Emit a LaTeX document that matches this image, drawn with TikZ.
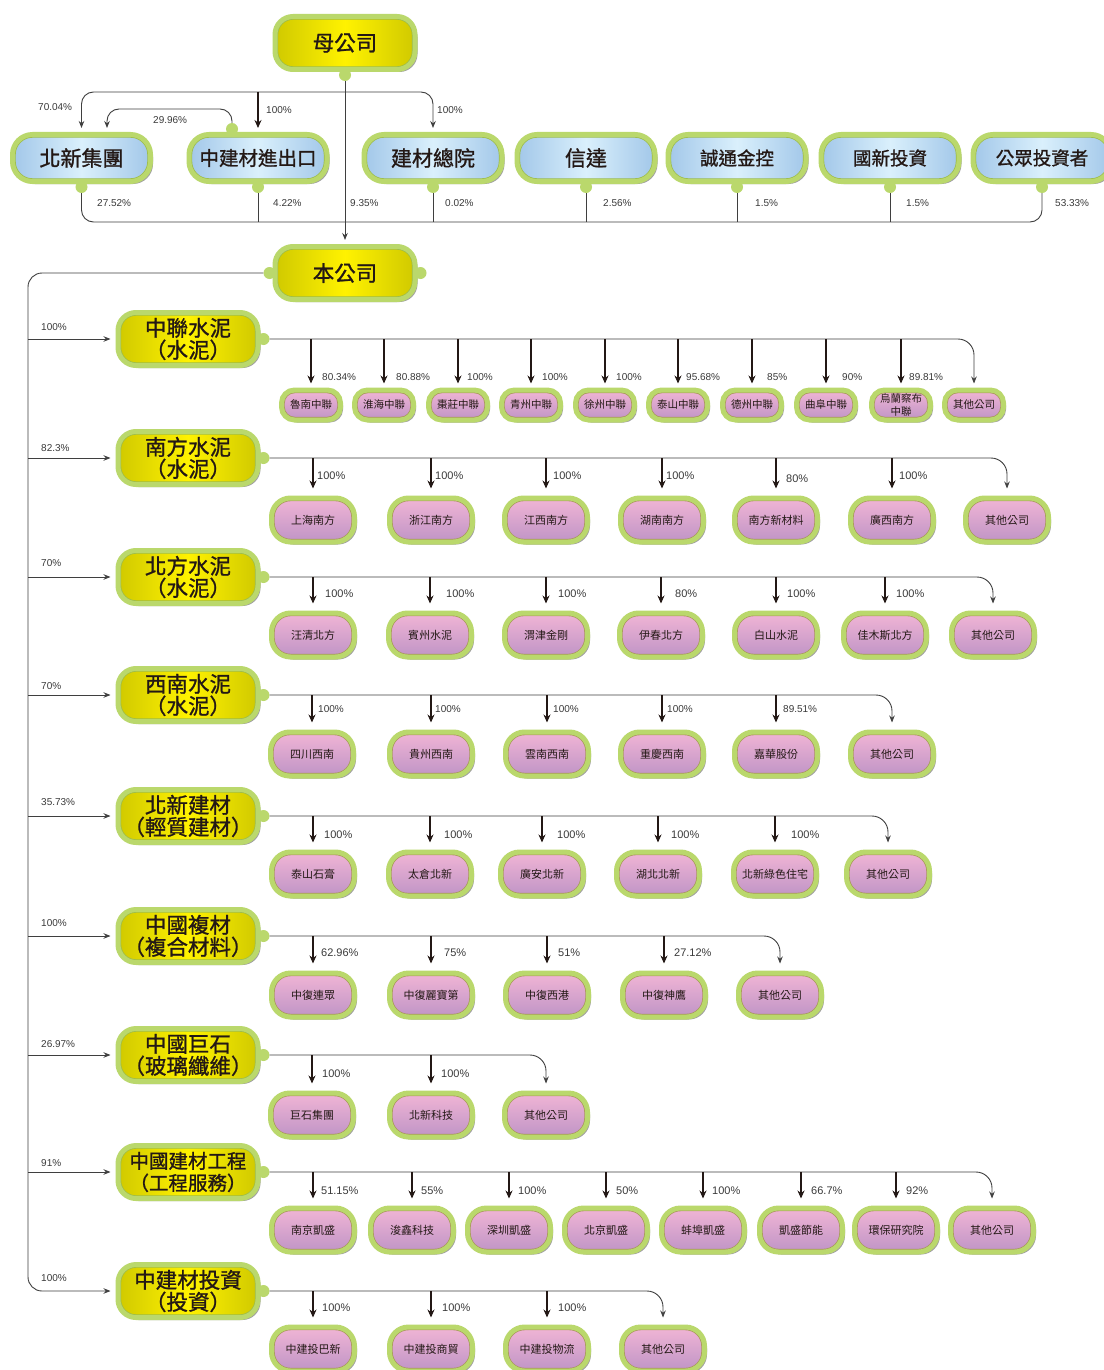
\documentclass[tikz,border=0pt]{standalone}
\usepackage{fontspec}
\setmainfont{Liberation Sans}
\newfontfamily\cjk{Noto Sans CJK TC}
\newfontfamily\cjkm[FakeBold=1.1]{Noto Sans CJK TC}
\usetikzlibrary{arrows.meta,shadows,calc}
\definecolor{ring}{HTML}{BAD86C}
\definecolor{ringin}{HTML}{9CBB48}
\definecolor{pinkin}{HTML}{A8965A}
\definecolor{ylw}{HTML}{FFF200}
\definecolor{ylwdk}{HTML}{D0C900}
\definecolor{blu}{HTML}{DAF0FC}
\definecolor{bludk}{HTML}{A2C7E9}
\definecolor{pnk}{HTML}{F1B5D5}
\definecolor{pnkdk}{HTML}{BF94C6}
\definecolor{shd}{HTML}{A0A0A0}
\definecolor{ink}{HTML}{231815}
\definecolor{lnc}{HTML}{3F3F3F}
\definecolor{pctc}{HTML}{3A3A3A}
\newcommand\lp{\makebox[0.62em][r]{（}}
\newcommand\rp{\makebox[0.62em][l]{）}}
\begin{document}
\begin{tikzpicture}[x=1pt,y=-1pt,
  ringed/.style 2 args={draw=ring, line width=5pt, rounded corners=#1,
    path picture={\draw[#2, line width=6.4pt, rounded corners=#1]
      (path picture bounding box.south west) rectangle (path picture bounding box.north east);}},
  shad/.style={drop shadow={shadow xshift=2.5pt, shadow yshift=-2.5pt, fill=shd, opacity=1}},
  yel/.style={ringed={18pt}{ringin}, shad, left color=ylwdk, right color=ylwdk, middle color=ylw,
    minimum width=140pt, minimum height=53pt, inner sep=0pt, align=center, text=ink,
    font=\cjkm\fontsize{21.5}{22}\selectfont},
  shr/.style={ringed={20pt}{ringin}, shad, left color=bludk, right color=bludk, middle color=blu,
    minimum width=138pt, minimum height=47pt, inner sep=0pt, text=ink,
    font=\cjkm\fontsize{21}{22}\selectfont},
  shrs/.style={shr, font=\cjkm\fontsize{18.5}{20}\selectfont},
  kid/.style={ringed={19pt}{pinkin}, shad, top color=pnk, bottom color=pnkdk,
    minimum width=83pt, minimum height=44pt, inner sep=0pt, align=center, text=ink,
    font=\cjk\fontsize{11}{13}\selectfont},
  kidsm/.style={kid, ringed={13pt}{pinkin}, minimum width=59pt, minimum height=30pt,
    font=\cjk\fontsize{10.5}{12.5}\selectfont},
  knob/.style={circle, fill=ring, draw=none, minimum size=12pt, inner sep=0pt},
  ln/.style={draw=lnc, line width=0.9pt},
  tarr/.style={ln, -{Stealth[length=7pt,width=5.5pt]}},
  karr/.style={draw=ink, line width=1.8pt, -{Stealth[length=8pt,width=7pt]}},
  pct/.style={font=\fontsize{10}{12}\selectfont, text=pctc, anchor=west, inner sep=0pt},
  pctb/.style={pct, font=\fontsize{11}{13}\selectfont}
]
\fill[white] (0,0) rectangle (1103,1370);
\useasboundingbox (0,0) rectangle (1103,1370);

% ---------- top ----------
\node[yel] (mu) at (345,43) {母公司};
\node[knob] (kmu) at ($(mu.south)+(0,3)$) {};

\node[shr] (bx) at (81.5,158) {北新集團};
\node[shr, font=\cjkm\fontsize{19.5}{20}\selectfont] (zjc) at (258,158) {中建材進出口};
\node[shr] (jczy) at (433,158) {建材總院};
\node[shr] (xd) at (586,158) {信達};
\node[shrs] (ct) at (737,158) {誠通金控};
\node[shrs] (gx) at (890,158) {國新投資};
\node[shrs] (gz) at (1042,158) {公眾投資者};
\foreach \n in {bx,zjc,jczy,xd,ct,gx,gz} \node[knob] (k\n) at ($(\n.south)+(0,3)$) {};

\node[yel] (ben) at (345,273) {本公司};
\node[knob] (kbl) at ($(ben.west)+(-3,0)$) {};
\node[knob] (kbr) at ($(ben.east)+(3,0)$) {};

\coordinate (sp) at (345,92);
\coordinate (busy) at (0,222);
\draw[ln, rounded corners=12pt] (kbx) |- (kgz |- busy) -- (kgz);
\foreach \n in {zjc,jczy,xd,ct,gx} \draw[ln] (k\n) -- (k\n |- busy);
\draw[tarr, shorten >=4pt] (kmu) -- (ben.north);
\draw[tarr, rounded corners=12pt, shorten >=4pt] (sp) -| (bx.north);
\draw[tarr, rounded corners=12pt, shorten >=4pt] (sp) -| (jczy.north);
\draw[karr, shorten >=4pt] (zjc.north |- sp) -- (zjc.north);
\node[knob] (kzt) at ($(zjc.north)+(-26,-3)$) {};
\coordinate (c29) at (107,109);
\draw[tarr, rounded corners=12pt, shorten >=4pt] (kzt) |- (c29) -- (c29 |- bx.north);

\node[pct] (t1) at (38,107) {70.04\%};
\node[pct] (t2) at (153,120) {29.96\%};
\node[pct] (t3) at (266,110) {100\%};
\node[pct] (t4) at (437,110) {100\%};
\node[pct] (b1) at (97,203) {27.52\%};
\node[pct] (b2) at (273,203) {4.22\%};
\node[pct] (b3) at (350,203) {9.35\%};
\node[pct] (b4) at (445,203) {0.02\%};
\node[pct] (b5) at (603,203) {2.56\%};
\node[pct] (b6) at (755,203) {1.5\%};
\node[pct] (b7) at (906,203) {1.5\%};
\node[pct] (b8) at (1055,203) {53.33\%};

% ---------- segments ----------
\node[yel] (s1) at (188,339) {中聯水泥\\\lp 水泥\rp};
\node[yel] (s2) at (188,458) {南方水泥\\\lp 水泥\rp};
\node[yel] (s3) at (188,577) {北方水泥\\\lp 水泥\rp};
\node[yel] (s4) at (188,695) {西南水泥\\\lp 水泥\rp};
\node[yel] (s5) at (188,816) {北新建材\\\lp 輕質建材\rp};
\node[yel] (s6) at (188,936) {中國複材\\\lp 複合材料\rp};
\node[yel] (s7) at (188,1055) {中國巨石\\\lp 玻璃纖維\rp};
\node[yel, font=\cjkm\fontsize{19.5}{22}\selectfont] (s8) at (188,1172) {中國建材工程\\\lp 工程服務\rp};
\node[yel] (s9) at (188,1291) {中建材投資\\\lp 投資\rp};
\foreach \i in {1,...,9} \node[knob] (ks\i) at ($(s\i.east)+(3,0)$) {};

\coordinate (tb) at (28,0);
\draw[tarr, rounded corners=14pt, shorten >=5pt] (kbl) -| (tb |- s9.west) -- (s9.west);
\foreach \i in {1,...,8} \draw[tarr, shorten >=5pt] (tb |- s\i.west) -- (s\i.west);

\node[pct] (g1) at (41,327) {100\%};
\node[pct] (g2) at (41,448) {82.3\%};
\node[pct] (g3) at (41,563) {70\%};
\node[pct] (g4) at (41,686) {70\%};
\node[pct] (g5) at (41,802) {35.73\%};
\node[pct] (g6) at (41,923) {100\%};
\node[pct] (g7) at (41,1044) {26.97\%};
\node[pct] (g8) at (41,1163) {91\%};
\node[pct] (g9) at (41,1278) {100\%};

% ---------- row 1 ----------
\node[kidsm] (r1q) at (974,405) {其他公司};
\draw[tarr, rounded corners=16pt, shorten >=4pt] (ks1) -| (r1q.north);
\foreach \n/\x/\t/\p/\lx in {a/311/魯南中聯/80.34/322, b/384/淮海中聯/80.88/396, c/458/棗莊中聯/100/467,
  d/531/青州中聯/100/542, e/605/徐州中聯/100/616, f/678/泰山中聯/95.68/686, g/752/德州中聯/85/767,
  h/826/曲阜中聯/90/842, i/901/烏蘭察布\\中聯/89.81/909}{
  \node[kidsm] (r1\n) at (\x,405) {\t};
  \draw[karr, shorten >=4pt] (r1\n.north |- ks1) -- (r1\n.north);
  \node[pct] (l1\n) at (\lx,377) {\p\%};
}

% ---------- row 2 ----------
\node[kid] (r2q) at (1007,520) {其他公司};
\draw[tarr, rounded corners=16pt, shorten >=7pt] (ks2) -| (r2q.north);
\foreach \n/\x/\t/\p/\lx/\ly in {a/313/上海南方/100/317/476, b/431/浙江南方/100/435/476, c/546/江西南方/100/553/476,
  d/662/湖南南方/100/666/476, e/776/南方新材料/80/786/479, f/892/廣西南方/100/899/476}{
  \node[kid] (r2\n) at (\x,520) {\t};
  \draw[karr, shorten >=7pt] (r2\n.north |- ks2) -- (r2\n.north);
  \node[pctb] (l2\n) at (\lx,\ly) {\p\%};
}

% ---------- row 3 ----------
\node[kid] (r3q) at (993,635) {其他公司};
\draw[tarr, rounded corners=16pt, shorten >=7pt] (ks3) -| (r3q.north);
\foreach \n/\x/\t/\p/\lx in {a/313/汪清北方/100/325, b/430/賓州水泥/100/446, c/546/渭津金剛/100/558,
  d/661/伊春北方/80/675, e/776/白山水泥/100/787, f/885/佳木斯北方/100/896}{
  \node[kid] (r3\n) at (\x,635) {\t};
  \draw[karr, shorten >=7pt] (r3\n.north |- ks3) -- (r3\n.north);
  \node[pctb] (l3\n) at (\lx,594) {\p\%};
}

% ---------- row 4 ----------
\node[kid] (r4q) at (892,754) {其他公司};
\draw[tarr, rounded corners=16pt, shorten >=7pt] (ks4) -| (r4q.north);
\foreach \n/\x/\t/\p/\lx in {a/312/四川西南/100/318, b/431/貴州西南/100/435, c/547/雲南西南/100/553,
  d/662/重慶西南/100/667, e/776/嘉華股份/89.51/783}{
  \node[kid] (r4\n) at (\x,754) {\t};
  \draw[karr, shorten >=7pt] (r4\n.north |- ks4) -- (r4\n.north);
  \node[pct] (l4\n) at (\lx,709) {\p\%};
}

% ---------- row 5 ----------
\node[kid] (r5q) at (888,874) {其他公司};
\draw[tarr, rounded corners=16pt, shorten >=7pt] (ks5) -| (r5q.north);
\foreach \n/\x/\t/\p/\lx in {a/313/泰山石膏/100/324, b/430/太倉北新/100/444, c/542/廣安北新/100/557,
  d/658/湖北北新/100/671, e/775/北新綠色住宅/100/791}{
  \node[kid] (r5\n) at (\x,874) {\t};
  \draw[karr, shorten >=7pt] (r5\n.north |- ks5) -- (r5\n.north);
  \node[pctb] (l5\n) at (\lx,835) {\p\%};
}

% ---------- row 6 ----------
\node[kid] (r6q) at (780,995) {其他公司};
\draw[tarr, rounded corners=16pt, shorten >=7pt] (ks6) -| (r6q.north);
\foreach \n/\x/\t/\p/\lx in {a/313/中復連眾/62.96/321, b/431/中復麗寶第/75/444, c/547/中復西港/51/558,
  d/664/中復神鷹/27.12/674}{
  \node[kid] (r6\n) at (\x,995) {\t};
  \draw[karr, shorten >=7pt] (r6\n.north |- ks6) -- (r6\n.north);
  \node[pctb] (l6\n) at (\lx,953) {\p\%};
}

% ---------- row 7 ----------
\node[kid] (r7q) at (546,1115) {其他公司};
\draw[tarr, rounded corners=16pt, shorten >=7pt] (ks7) -| (r7q.north);
\foreach \n/\x/\t/\p/\lx in {a/312/巨石集團/100/322, b/431/北新科技/100/441}{
  \node[kid] (r7\n) at (\x,1115) {\t};
  \draw[karr, shorten >=7pt] (r7\n.north |- ks7) -- (r7\n.north);
  \node[pctb] (l7\n) at (\lx,1074) {\p\%};
}

% ---------- row 8 ----------
\node[kid] (r8q) at (992,1230) {其他公司};
\draw[tarr, rounded corners=16pt, shorten >=7pt] (ks8) -| (r8q.north);
\foreach \n/\x/\t/\p/\lx in {a/313/南京凱盛/51.15/321, b/412/浚鑫科技/55/421, c/509/深圳凱盛/100/518,
  d/606/北京凱盛/50/616, e/703/蚌埠凱盛/100/712, f/801/凱盛節能/66.7/811, g/896/環保研究院/92/906}{
  \node[kid] (r8\n) at (\x,1230) {\t};
  \draw[karr, shorten >=7pt] (r8\n.north |- ks8) -- (r8\n.north);
  \node[pctb] (l8\n) at (\lx,1191) {\p\%};
}

% ---------- row 9 ----------
\node[kid] (r9q) at (663,1349) {其他公司};
\draw[tarr, rounded corners=16pt, shorten >=7pt] (ks9) -| (r9q.north);
\foreach \n/\x/\t/\p/\lx in {a/313/中建投巴新/100/322, b/431/中建投商貿/100/442, c/547/中建投物流/100/558}{
  \node[kid] (r9\n) at (\x,1349) {\t};
  \draw[karr, shorten >=7pt] (r9\n.north |- ks9) -- (r9\n.north);
  \node[pctb] (l9\n) at (\lx,1308) {\p\%};
}
\end{tikzpicture}
\end{document}
